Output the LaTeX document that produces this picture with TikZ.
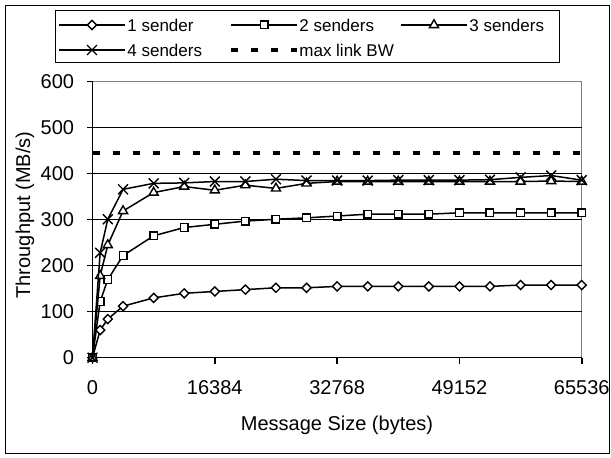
\documentclass[tikz,border=0pt]{standalone}
\usepackage{fontspec}
\setmainfont{Liberation Sans}
\usetikzlibrary{plotmarks}

\tikzset{
  series/.style={line width=0.75pt},
  mk/.style={solid, fill=white, line width=0.7pt},
  sone/.style={series, mark=square*, mark size=1.6pt, mark options={mk, rotate=45}},
  stwo/.style={series, mark=square*, mark size=1.9pt, mark options={mk}},
  sthree/.style={series, mark=triangle*, mark size=2.6pt, mark options={mk}},
  sfour/.style={series, mark=x, mark size=3.5pt, mark options={mk}},
  maxbw/.style={line width=1.75pt, dash pattern=on 3.5pt off 6.5pt},
  grid line/.style={line width=0.5pt},
  axis line/.style={line width=0.8pt},
  tick label/.style={font=\fontsize{10}{12}\selectfont, inner sep=0pt},
  legend text/.style={font=\fontsize{8.5}{10}\selectfont, inner sep=0pt, anchor=west},
}

\begin{document}
\begin{tikzpicture}[x=0.5pt, y=-0.5pt]
\useasboundingbox (0,0) rectangle (611,458);
% Chart frame
\fill[white] (0,0) rectangle (611,458);
\draw[line width=0.5pt] (5,6) rectangle (609,454);
% Legend
\draw[line width=0.5pt] (55,11) rectangle (559,63);
\draw[sone, mark indices={2}] plot coordinates {(59,25) (92,25) (125,25)};
\node[legend text] (lg1) at (127,25) {1 sender};
\draw[stwo, mark indices={2}] plot coordinates {(231,25) (264,25) (297,25)};
\node[legend text] (lg2) at (299,25) {2 senders};
\draw[sthree, mark indices={2}] plot coordinates {(401,25) (434,25) (467,25)};
\node[legend text] (lg3) at (469,25) {3 senders};
\draw[sfour, mark indices={2}] plot coordinates {(59,50) (92,50) (125,50)};
\node[legend text] (lg4) at (127,50) {4 senders};
\draw[maxbw] (231,50) -- (297,50);
\node[legend text] (lg5) at (299,50) {max link BW};
% Axis titles
\node[tick label, rotate=90] (ylab) at (25,215) {Throughput (MB/s)};
\node[tick label] (xlab) at (337,425) {Message Size (bytes)};
% Plot area: x in kB, y in MB/s
\begin{scope}[shift={(92.5,357.7)}, x=3.822pt, y=0.23pt]
\draw[gray, line width=0.6pt] (0,600) -- (64,600) -- (64,0);
\foreach \v in {100,200,...,500}
  \draw[grid line] (0,\v) -- (64,\v);
\draw[axis line] (0,600) -- (0,0) -- (64,0);
\foreach \v in {0,100,...,600} {
  \draw[axis line] (0,\v) -- ++(-3pt,0);
  \node[tick label, anchor=east, xshift=-9pt] (y\v) at (0,\v) {\v};
}
\foreach \k/\lab in {0/0,16/16384,32/32768,48/49152,64/65536} {
  \draw[axis line] (\k,0) -- ++(0,-3.2pt);
  \node[tick label, yshift=-14.9pt] (x\k) at (\k,0) {\lab};
}
% Max link bandwidth
\draw[maxbw] (0,445) -- (64,445);
% Measured series
\draw[sone] plot coordinates {(0,0) (1,60) (2,84) (4,112) (8,130) (12,140) (16,144) (20,148) (24,152) (28,152) (32,155) (36,155) (40,155) (44,155) (48,155) (52,155) (56,158) (60,158) (64,158)};
\draw[stwo] plot coordinates {(0,0) (1,122) (2,170) (4,222) (8,265) (12,283) (16,290) (20,297) (24,301) (28,304) (32,308) (36,312) (40,312) (44,312) (48,315) (52,315) (56,315) (60,315) (64,315)};
\draw[sthree] plot coordinates {(0,0) (1,178) (2,245) (4,319) (8,359) (12,372) (16,364) (20,375) (24,368) (28,379) (32,383) (36,383) (40,383) (44,383) (48,383) (52,383) (56,383) (60,384) (64,383)};
\draw[sfour] plot coordinates {(0,0) (1,228) (2,301) (4,366) (8,379) (12,380) (16,383) (20,383) (24,388) (28,385) (32,385) (36,385) (40,386) (44,386) (48,386) (52,387) (56,392) (60,396) (64,386)};
\end{scope}
\end{tikzpicture}
\end{document}
